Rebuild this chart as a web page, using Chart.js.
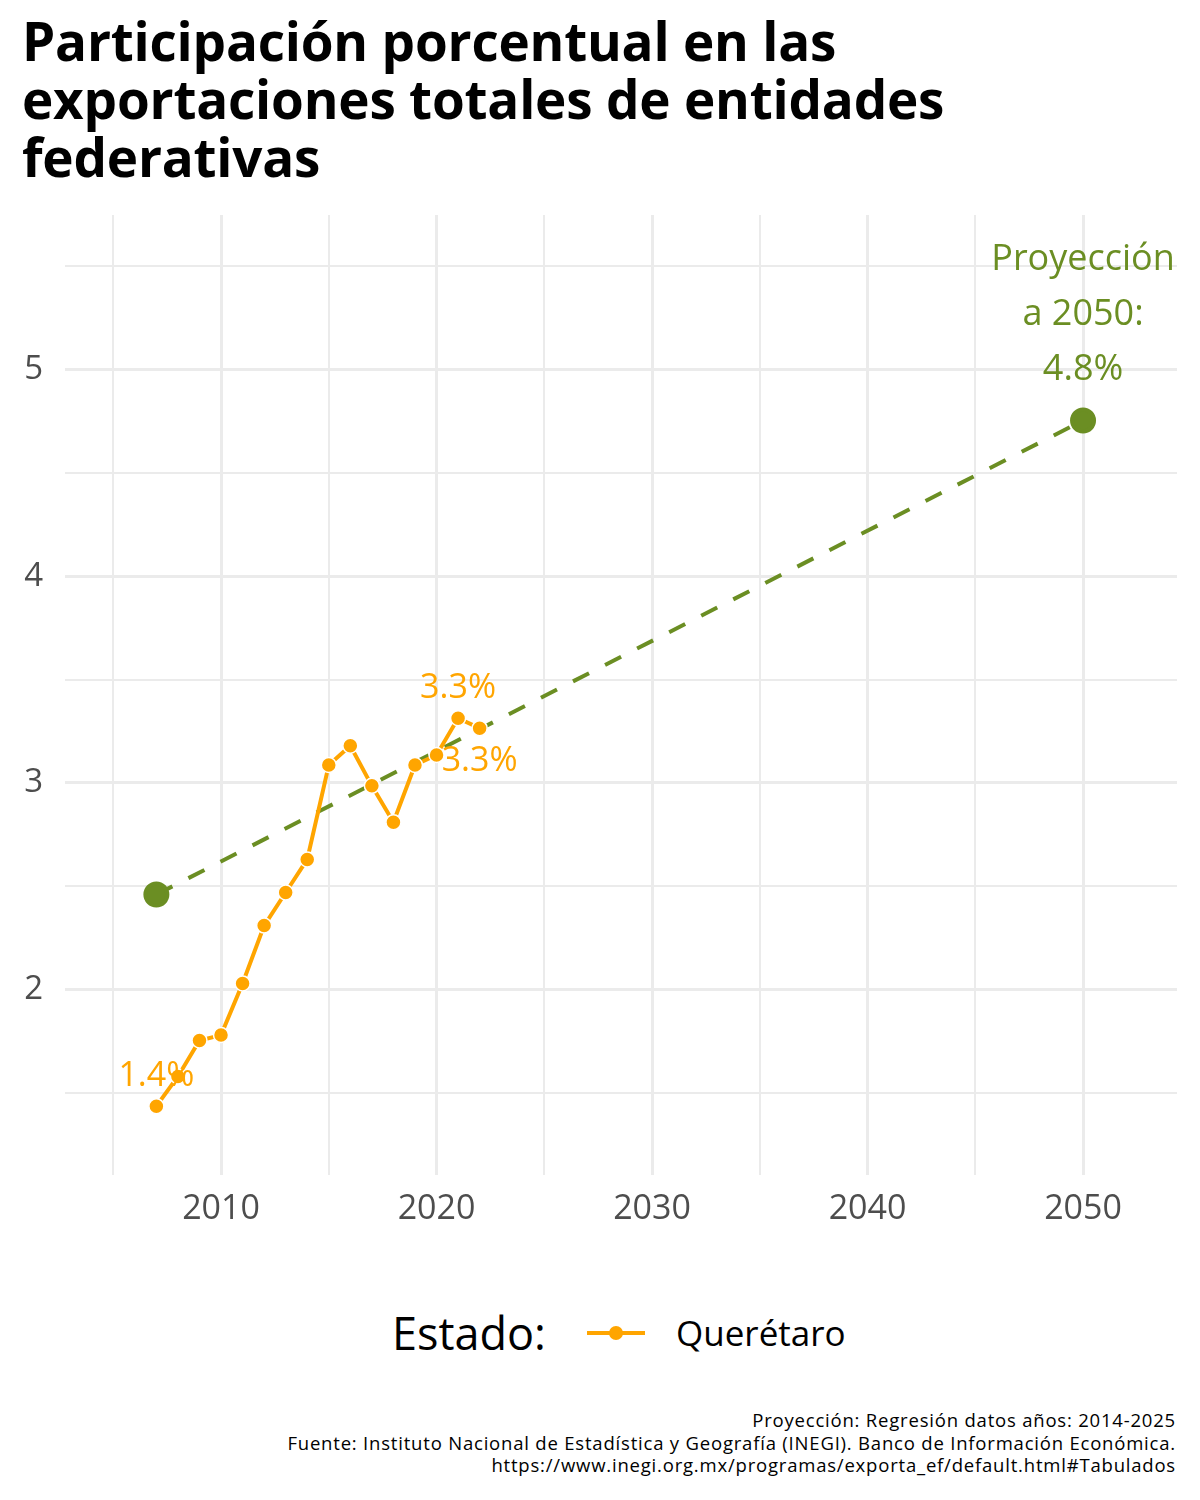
<!DOCTYPE html>
<html>
<head>
<meta charset="utf-8">
<script src="https://cdn.jsdelivr.net/npm/chart.js@4/dist/chart.umd.min.js"></script>
<style>
  html, body { margin:0; padding:0; background:#fff; }
  body { width:1200px; height:1500px; position:relative; overflow:hidden; font-family:"Open Sans", sans-serif; }
  #title { position:absolute; left:22px; top:12px; font-weight:700; font-size:53px; line-height:58px; color:#000; letter-spacing:-0.2px; }
  #wrap { position:absolute; left:0; top:200px; width:1200px; height:1060px; }
  #legend { position:absolute; left:0; top:1308px; width:1200px; height:50px; }
  #legend .ttl { position:absolute; left:392px; top:-2px; font-size:45px; line-height:54px; color:#000; }
  #legend .line { position:absolute; left:587px; top:23px; width:58px; height:4px; background:#FFA500; }
  #legend .dot { position:absolute; left:609px; top:18px; width:14px; height:14px; border-radius:50%; background:#FFA500; }
  #legend .lab { position:absolute; left:676px; top:2px; font-size:35px; line-height:46px; color:#000; }
  #caption { position:absolute; right:24px; top:1409px; text-align:right; font-size:18.5px; line-height:22.5px; color:#000; letter-spacing:0.8px; }
</style>
</head>
<body>
<div id="title">Participación porcentual en las<br>exportaciones totales de entidades<br>federativas</div>
<div id="wrap"><canvas id="c"></canvas></div>
<div id="legend">
  <div class="ttl">Estado:</div>
  <div class="line"></div><div class="dot"></div>
  <div class="lab">Querétaro</div>
</div>
<div id="caption">Proyección: Regresión datos años: 2014-2025<br>Fuente: Instituto Nacional de Estadística y Geografía (INEGI). Banco de Información Económica.<br>https://www.inegi.org.mx/programas/exporta_ef/default.html#Tabulados</div>
<script>
// ---- data ----
const seriesName = "Querétaro";
const years = [2007, 2008, 2009, 2010, 2011, 2012, 2013, 2014, 2015, 2016, 2017, 2018, 2019, 2020, 2021, 2022];
const values = [1.436, 1.58, 1.754, 1.78, 2.03, 2.31, 2.47, 2.63, 3.087, 3.18, 2.986, 2.81, 3.087, 3.135, 3.313, 3.265];
const projYears = [2007, 2050];
const projValues = [2.46, 4.754];
const xTicks = [2005, 2010, 2015, 2020, 2025, 2030, 2035, 2040, 2045, 2050];
const yTicks = [1.5, 2, 2.5, 3, 3.5, 4, 4.5, 5, 5.5];
const valueLabels = [
  { x: 2007, y: 1.436, text: "1.4%", pos: "above" },
  { x: 2021, y: 3.313, text: "3.3%", pos: "above" },
  { x: 2022, y: 3.265, text: "3.3%", pos: "below" }
];
const projLabel = { x: 2050, y: 4.754, lines: ["Proyección", "a 2050:", "4.8%"] };

const ORANGE = "#FFA500";
const GREEN = "#6B8E23";
const GRID = "#EBEBEB";

const labelPlugin = {
  id: "labels",
  afterDatasetsDraw(chart) {
    const ctx = chart.ctx, xs = chart.scales.x, ys = chart.scales.y;
    ctx.save();
    ctx.textAlign = "center";
    ctx.textBaseline = "middle";
    ctx.font = '34px "Open Sans"';
    ctx.fillStyle = ORANGE;
    valueLabels.forEach(l => {
      const px = xs.getPixelForValue(l.x), py = ys.getPixelForValue(l.y);
      ctx.fillText(l.text, px, l.pos === "above" ? py - 30 : py + 33);
    });
    ctx.fillStyle = GREEN;
    ctx.font = '36px "Open Sans"';
    const px = xs.getPixelForValue(projLabel.x), py = ys.getPixelForValue(projLabel.y);
    const n = projLabel.lines.length;
    projLabel.lines.forEach((t, i) => {
      ctx.fillText(t, px, py - 51 - (n - 1 - i) * 55);
    });
    ctx.restore();
  }
};

new Chart(document.getElementById("c"), {
  type: "scatter",
  data: {
    datasets: [
      {
        label: seriesName,
        data: years.map((y, i) => ({ x: y, y: values[i] })),
        showLine: true,
        borderColor: ORANGE,
        borderWidth: 4,
        pointRadius: 7.5,
        pointBackgroundColor: ORANGE,
        pointBorderColor: "#fff",
        pointBorderWidth: 1.5,
        order: 1
      },
      {
        label: "Proyección",
        data: projYears.map((y, i) => ({ x: y, y: projValues[i] })),
        showLine: true,
        borderColor: GREEN,
        borderWidth: 4,
        borderDash: [18, 18],
        pointRadius: 11,
        pointBackgroundColor: GREEN,
        pointBorderColor: GREEN,
        order: 2
      }
    ]
  },
  options: {
    responsive: true,
    maintainAspectRatio: false,
    animation: false,
    layout: { padding: { top: 12, right: 23, left: 0, bottom: 0 } },
    plugins: { legend: { display: false }, tooltip: { enabled: false } },
    scales: {
      x: {
        type: "linear",
        min: 2002.76,
        max: 2054.36,
        afterBuildTicks: s => { s.ticks = xTicks.map(v => ({ value: v })); },
        afterFit: s => { s.height = 85; s.paddingLeft = 0; s.paddingRight = 0; },
        border: { display: false },
        grid: {
          color: GRID,
          drawTicks: false,
          lineWidth: c => (c.tick && c.tick.value % 10 === 0) ? 3 : 2
        },
        ticks: {
          padding: 14,
          color: "#4D4D4D",
          font: { family: "Open Sans", size: 34 },
          maxRotation: 0,
          autoSkip: false,
          callback: v => (v % 10 === 0 ? String(v) : "")
        }
      },
      y: {
        type: "linear",
        min: 1.103,
        max: 5.748,
        afterBuildTicks: s => { s.ticks = yTicks.map(v => ({ value: v })); },
        afterFit: s => { s.width = 65; s.paddingTop = 0; s.paddingBottom = 0; },
        border: { display: false },
        grid: {
          color: GRID,
          drawTicks: false,
          lineWidth: c => (c.tick && Number.isInteger(c.tick.value)) ? 3 : 2
        },
        ticks: {
          padding: 22,
          color: "#4D4D4D",
          font: { family: "Open Sans", size: 33 },
          autoSkip: false,
          callback: v => (Number.isInteger(v) ? String(v) : "")
        }
      }
    }
  },
  plugins: [labelPlugin]
});
</script>
</body>
</html>
